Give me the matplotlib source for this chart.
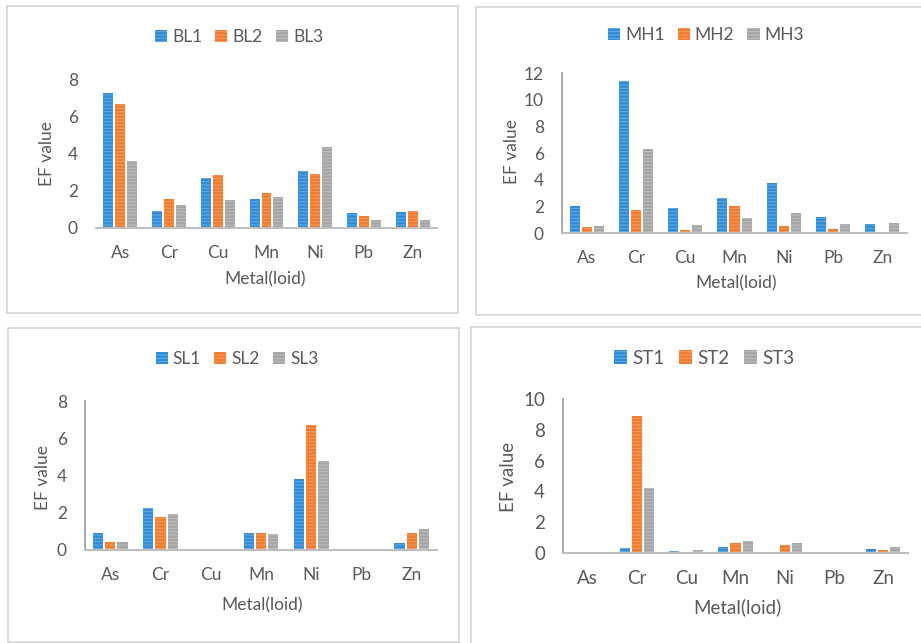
import matplotlib.pyplot as plt
import numpy as np
from matplotlib.patches import Rectangle

plt.rcParams['font.family'] = ['Lato', 'DejaVu Sans']
plt.rcParams['hatch.color'] = (1, 1, 1, 0.3)
plt.rcParams['hatch.linewidth'] = 0.6

metals = ['As', 'Cr', 'Cu', 'Mn', 'Ni', 'Pb', 'Zn']

# EF values
bl1 = [7.27, 0.93, 2.67, 1.54, 3.05, 0.79, 0.86]
bl2 = [6.67, 1.54, 2.85, 1.90, 2.89, 0.65, 0.93]
bl3 = [3.60, 1.25, 1.49, 1.65, 4.34, 0.43, 0.43]

mh1 = [2.05, 11.42, 1.90, 2.65, 3.78, 1.17, 0.70]
mh2 = [0.42, 1.75, 0.25, 2.00, 0.50, 0.30, 0.10]
mh3 = [0.50, 6.30, 0.62, 1.12, 1.50, 0.70, 0.73]

sl1 = [0.89, 2.23, 0.0, 0.93, 3.80, 0.0, 0.36]
sl2 = [0.45, 1.79, 0.0, 0.93, 6.70, 0.0, 0.93]
sl3 = [0.45, 1.91, 0.0, 0.86, 4.78, 0.0, 1.11]

st1 = [0.03, 0.32, 0.10, 0.37, 0.04, 0.03, 0.26]
st2 = [0.03, 8.87, 0.08, 0.65, 0.50, 0.04, 0.20]
st3 = [0.04, 4.22, 0.20, 0.76, 0.65, 0.08, 0.37]

colors = ['#2e8ddb', '#f57b2b', '#a6a6a6']
txt = '#595959'

W, H = 921, 643
fig = plt.figure(figsize=(W / 100, H / 100), dpi=100)


def fx(x):
    return x / W


def fy(y):
    return 1 - y / H


# panel frames (pixel boxes)
for (x0, y0, x1, y1) in [(7, 6, 458, 313), (476, 7, 925, 315),
                         (8, 328, 459, 642), (471, 327, 925, 650)]:
    fig.patches.append(Rectangle((fx(x0), fy(y1)), fx(x1 - x0), (y1 - y0) / H,
                                 transform=fig.transFigure, fill=False,
                                 edgecolor='#d4d4d4', linewidth=1.2))

panels = [
    dict(series=[bl1, bl2, bl3], names=['BL1', 'BL2', 'BL3'], ymax=8, fs=12.5,
         box=(96, 79, 437, 228), yaxis=False, leg=(239, 37), ylab=(47, 153), xlab=(265, 279)),
    dict(series=[mh1, mh2, mh3], names=['MH1', 'MH2', 'MH3'], ymax=12, fs=12.5,
         box=(562, 73, 907, 233), yaxis=True, leg=(706, 35), ylab=(512, 152), xlab=(736, 283)),
    dict(series=[sl1, sl2, sl3], names=['SL1', 'SL2', 'SL3'], ymax=8, fs=12.5,
         box=(85, 401, 437, 550), yaxis=True, leg=(237, 359), ylab=(43, 477), xlab=(262, 605)),
    dict(series=[st1, st2, st3], names=['ST1', 'ST2', 'ST3'], ymax=10, fs=13.5,
         box=(563, 399, 908, 553), yaxis=True, leg=(704, 358), ylab=(508, 477), xlab=(737, 607)),
]

x = np.arange(len(metals))
off = 0.245
bw = 0.205

for p in panels:
    x0, y0, x1, y1 = p['box']
    fs = p['fs']
    ax = fig.add_axes([fx(x0), fy(y1), fx(x1 - x0), (y1 - y0) / H])
    handles = []
    for i, (vals, name) in enumerate(zip(p['series'], p['names'])):
        b = ax.bar(x + (i - 1) * off, vals, bw, color=colors[i], hatch='-----',
                   label=name)
        handles.append(b)
    ax.set_xlim(-0.5, len(metals) - 0.5)
    ax.set_ylim(0, p['ymax'])
    ax.set_yticks(np.arange(0, p['ymax'] + 0.1, 2))
    ax.set_xticks(x)
    ax.set_xticklabels(metals)
    ax.tick_params(length=0, colors=txt, labelsize=fs)
    ax.tick_params(axis='y', pad=13)
    ax.tick_params(axis='x', pad=12)
    for s in ['top', 'right']:
        ax.spines[s].set_visible(False)
    ax.spines['bottom'].set_color('#bfbfbf')
    ax.spines['bottom'].set_linewidth(1.5)
    if p['yaxis']:
        ax.spines['left'].set_color('#a0a0a0')
        ax.spines['left'].set_linewidth(1.3)
    else:
        ax.spines['left'].set_visible(False)
    ax.patch.set_alpha(0)
    fig.legend(handles=handles, loc='center', bbox_to_anchor=(fx(p['leg'][0]), fy(p['leg'][1])),
               ncol=3, frameon=False, fontsize=fs, handlelength=0.7, handleheight=0.7,
               handletextpad=0.3, columnspacing=0.75, labelcolor=txt)
    fig.text(fx(p['ylab'][0]), fy(p['ylab'][1]), 'EF value', rotation=90,
             ha='center', va='center', fontsize=fs, color=txt)
    fig.text(fx(p['xlab'][0]), fy(p['xlab'][1]), 'Metal(loid)',
             ha='center', va='center', fontsize=fs, color=txt)

fig.savefig('out.png', dpi=100)
